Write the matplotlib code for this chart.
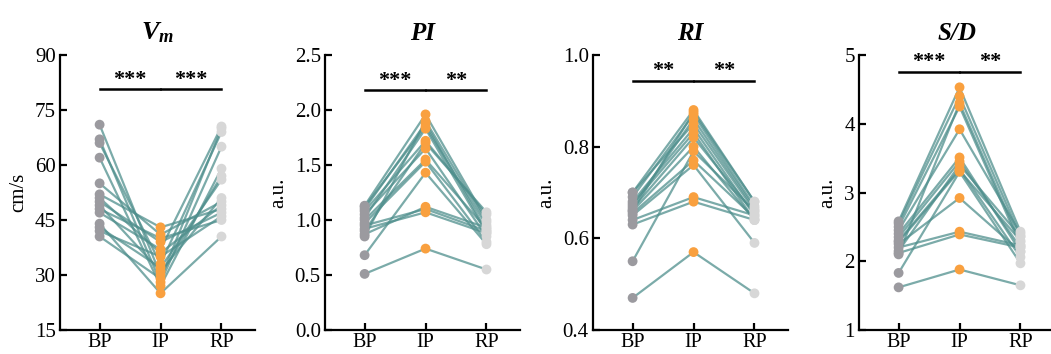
import matplotlib
matplotlib.use('Agg')
import matplotlib.pyplot as plt
import numpy as np

plt.rcParams['font.family'] = ['Liberation Serif', 'DejaVu Serif']
plt.rcParams['mathtext.fontset'] = 'custom'
plt.rcParams['mathtext.it'] = 'Liberation Serif:italic:bold'
plt.rcParams['mathtext.rm'] = 'Liberation Serif:bold'

groups = ['BP', 'IP', 'RP']

vm_bp = [71.0, 67.0, 66.0, 62.0, 55.0, 52.0, 51.0, 50.0, 49.0, 48.0, 47.0, 44.0, 43.0, 42.0, 40.5]
vm_ip = [30.0, 28.0, 33.0, 27.0, 41.0, 43.0, 36.0, 39.0, 31.0, 40.0, 37.0, 25.0, 32.0, 35.0, 29.0]
vm_rp = [57.0, 65.0, 69.0, 59.0, 50.0, 48.0, 49.0, 47.0, 51.0, 45.0, 70.5, 40.5, 56.0, 46.0, 70.0]

pi_bp = [1.13, 1.12, 1.10, 1.08, 1.05, 1.02, 1.00, 0.97, 0.95, 0.92, 0.90, 0.87, 0.85, 0.68, 0.51]
pi_ip = [1.96, 1.85, 1.88, 1.72, 1.65, 1.83, 1.55, 1.53, 1.10, 1.07, 1.70, 1.12, 1.90, 1.43, 0.74]
pi_rp = [1.00, 0.95, 0.90, 1.05, 0.85, 0.88, 0.92, 0.80, 0.90, 0.88, 1.07, 0.93, 0.98, 0.78, 0.55]

ri_bp = [0.70, 0.70, 0.69, 0.68, 0.675, 0.67, 0.665, 0.66, 0.655, 0.65, 0.64, 0.63, 0.66, 0.55, 0.47]
ri_ip = [0.88, 0.85, 0.87, 0.84, 0.83, 0.86, 0.82, 0.80, 0.77, 0.76, 0.69, 0.68, 0.875, 0.79, 0.57]
ri_rp = [0.68, 0.66, 0.67, 0.65, 0.64, 0.665, 0.655, 0.64, 0.645, 0.59, 0.65, 0.64, 0.68, 0.66, 0.48]

sd_bp = [2.58, 2.55, 2.50, 2.45, 2.40, 2.35, 2.30, 2.28, 2.25, 2.20, 2.15, 2.12, 2.10, 1.83, 1.62]
sd_ip = [4.53, 4.40, 4.25, 3.92, 3.51, 3.45, 3.34, 3.32, 2.92, 2.43, 3.40, 2.39, 4.30, 3.30, 1.88]
sd_rp = [2.43, 2.36, 2.23, 2.40, 2.14, 2.20, 2.06, 2.30, 2.14, 2.23, 2.36, 2.20, 2.28, 1.97, 1.65]

panels = [
    # title, ylabel, data, yticks, fmt, sig bar y, star y, stars
    (r'$V_m$', 'cm/s', (vm_bp, vm_ip, vm_rp), [15, 30, 45, 60, 75, 90], '{:.0f}', 80.7, 83.2, ('***', '***')),
    ('PI', 'a.u.', (pi_bp, pi_ip, pi_rp), [0.0, 0.5, 1.0, 1.5, 2.0, 2.5], '{:.1f}', 2.18, 2.265, ('***', '**')),
    ('RI', 'a.u.', (ri_bp, ri_ip, ri_rp), [0.4, 0.6, 0.8, 1.0], '{:.1f}', 0.944, 0.965, ('**', '**')),
    ('S/D', 'a.u.', (sd_bp, sd_ip, sd_rp), [1, 2, 3, 4, 5], '{:.0f}', 4.76, 4.90, ('***', '**')),
]

lefts = [60, 325, 593, 859]
W, H = 1051, 354
point_colors = ['#9b9a9f', '#f9a03f', '#d7d7d7']
line_color = '#4f8f8d'

fig = plt.figure(figsize=(W / 100, H / 100), dpi=100)

for left, (title, ylabel, data, yticks, fmt, ybar, ystar, stars) in zip(lefts, panels):
    ax = fig.add_axes([left / W, 24 / H, 195 / W, 275 / H])
    bp, ip, rp = data
    for a, b, c in zip(bp, ip, rp):
        ax.plot([0, 1, 2], [a, b, c], color=line_color, lw=1.6, alpha=0.75, zorder=1)
    for i, vals in enumerate(data):
        ax.scatter(np.full(len(vals), i), vals, s=50, color=point_colors[i],
                   edgecolor='none', zorder=3, clip_on=False)

    ax.set_xlim(-0.65, 2.55)
    ax.set_ylim(yticks[0], yticks[-1])
    ax.set_yticks(yticks)
    ax.set_yticklabels([fmt.format(t) for t in yticks])
    ax.set_xticks([0, 1, 2])
    ax.set_xticklabels(groups)
    ax.tick_params(axis='both', labelsize=15, width=1.6, length=5, direction='in')
    ax.tick_params(axis='x', pad=2, labelsize=14.5)
    ax.tick_params(axis='y', pad=3)
    for s in ['top', 'right']:
        ax.spines[s].set_visible(False)
    for s in ['left', 'bottom']:
        ax.spines[s].set_linewidth(1.6)
    ax.set_ylabel(ylabel, fontsize=15, labelpad=5)

    if title.startswith('$'):
        ax.set_title(title, fontsize=19, pad=11)
    else:
        ax.set_title(title, fontsize=18, fontweight='bold', style='italic', pad=11)

    # significance bars
    ax.plot([0, 0.99], [ybar, ybar], color='black', lw=1.8, clip_on=False)
    ax.plot([1.01, 2], [ybar, ybar], color='black', lw=1.8, clip_on=False)
    ax.text(0.5, ystar, stars[0], ha='center', va='center', fontsize=16, fontweight='bold')
    ax.text(1.5, ystar, stars[1], ha='center', va='center', fontsize=16, fontweight='bold')

fig.savefig('out.png', dpi=100)
